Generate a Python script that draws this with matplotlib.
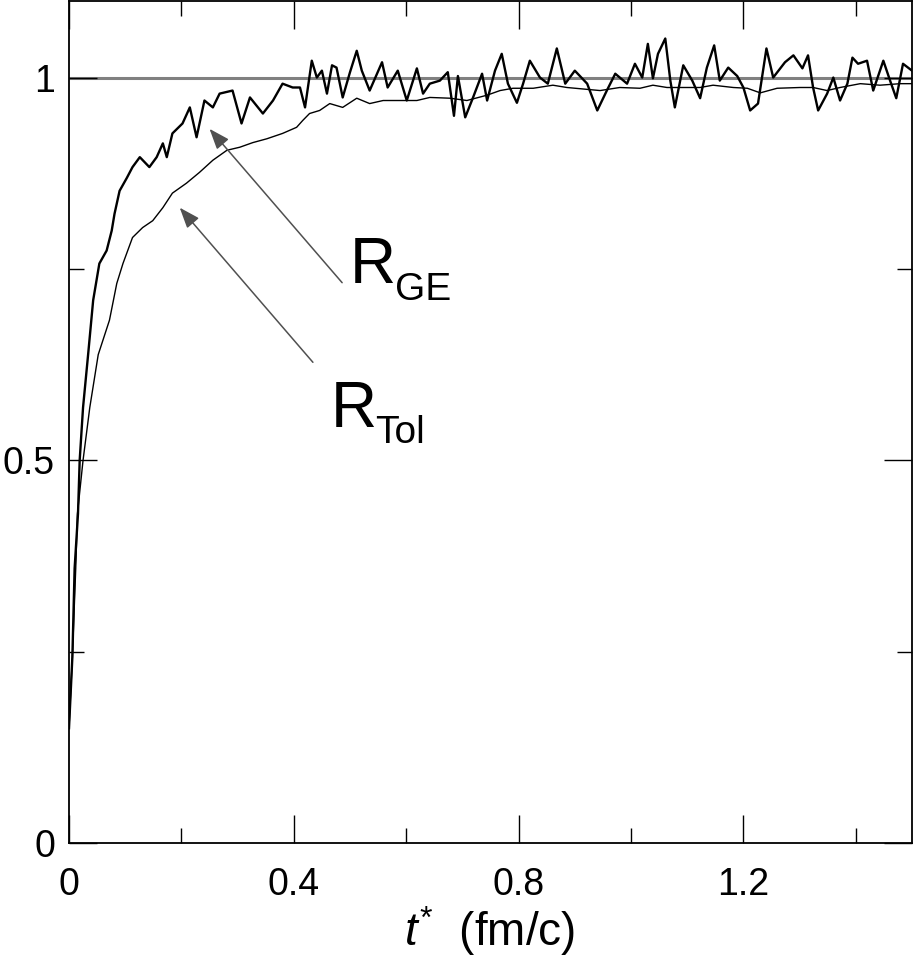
import matplotlib
matplotlib.use("Agg")
import matplotlib.pyplot as plt
import numpy as np

plt.rcParams["font.family"] = ["Liberation Sans", "DejaVu Sans"]
plt.rcParams["mathtext.fontset"] = "custom"
plt.rcParams["mathtext.rm"] = "Liberation Sans"
plt.rcParams["mathtext.it"] = "Liberation Sans:italic"

# R_GE: noisy curve
GE_T = [
    0.000, 0.006, 0.010, 0.016, 0.019, 0.025, 0.034, 0.043, 0.054, 0.067,
    0.076, 0.081, 0.090, 0.103, 0.113, 0.126, 0.143, 0.156, 0.167, 0.174,
    0.184, 0.202, 0.215, 0.227, 0.241, 0.256, 0.268, 0.291, 0.307, 0.322,
    0.345, 0.363, 0.380, 0.398, 0.411, 0.420, 0.432, 0.441, 0.450, 0.459,
    0.468, 0.476, 0.487, 0.500, 0.512, 0.521, 0.535, 0.557, 0.567, 0.585,
    0.601, 0.619, 0.630, 0.642, 0.660, 0.674, 0.685, 0.692, 0.705, 0.719,
    0.735, 0.744, 0.758, 0.770, 0.781, 0.797, 0.808, 0.820, 0.838, 0.852,
    0.868, 0.883, 0.900, 0.922, 0.940, 0.957, 0.972, 0.993, 1.007, 1.020,
    1.030, 1.039, 1.048, 1.061, 1.070, 1.078, 1.093, 1.109, 1.123, 1.135,
    1.148, 1.158, 1.173, 1.189, 1.200, 1.212, 1.226, 1.241, 1.253, 1.274,
    1.289, 1.305, 1.315, 1.324, 1.333, 1.349, 1.360, 1.372, 1.385, 1.394,
    1.404, 1.420, 1.431, 1.449, 1.461, 1.472, 1.484, 1.500,
]
GE_R = [
    0.150, 0.243, 0.359, 0.430, 0.500, 0.569, 0.638, 0.709, 0.757, 0.774,
    0.800, 0.822, 0.852, 0.869, 0.883, 0.896, 0.883, 0.896, 0.914, 0.896,
    0.927, 0.940, 0.961, 0.922, 0.970, 0.961, 0.979, 0.983, 0.940, 0.974,
    0.953, 0.970, 0.992, 0.987, 0.987, 0.961, 1.022, 1.000, 1.009, 0.979,
    1.016, 1.013, 0.974, 1.007, 1.035, 1.009, 0.983, 1.020, 0.987, 1.009,
    0.970, 1.012, 0.979, 0.992, 0.996, 1.007, 0.950, 1.002, 0.948, 0.974,
    1.005, 0.970, 1.009, 1.031, 0.992, 0.967, 0.992, 1.022, 1.000, 0.992,
    1.038, 0.992, 1.009, 0.992, 0.957, 0.983, 1.005, 0.992, 1.018, 1.000,
    1.044, 0.999, 1.031, 1.051, 0.996, 0.961, 1.016, 0.996, 0.973, 1.013,
    1.042, 0.996, 1.013, 1.002, 0.987, 0.957, 0.966, 1.038, 1.000, 1.020,
    1.029, 1.012, 1.029, 0.987, 0.957, 0.979, 1.000, 0.970, 0.992, 1.026,
    1.018, 1.022, 0.983, 1.022, 0.996, 0.973, 1.018, 1.009,
]

# R_Tol: smooth curve
TOL_T = [
    0.000, 0.006, 0.012, 0.015, 0.025, 0.037, 0.052, 0.072, 0.085, 0.096,
    0.113, 0.131, 0.149, 0.167, 0.184, 0.209, 0.232, 0.256, 0.281, 0.304,
    0.327, 0.352, 0.380, 0.405, 0.416, 0.428, 0.446, 0.464, 0.487, 0.512,
    0.535, 0.559, 0.589, 0.619, 0.642, 0.678, 0.708, 0.744, 0.767, 0.790,
    0.826, 0.861, 0.886, 0.945, 0.980, 1.016, 1.039, 1.064, 1.093, 1.123,
    1.146, 1.182, 1.207, 1.230, 1.260, 1.301, 1.324, 1.349, 1.372, 1.408,
    1.443, 1.479, 1.500,
]
TOL_R = [
    0.150, 0.243, 0.359, 0.430, 0.500, 0.569, 0.638, 0.683, 0.731, 0.757,
    0.791, 0.804, 0.813, 0.830, 0.849, 0.862, 0.876, 0.892, 0.905, 0.909,
    0.915, 0.920, 0.927, 0.935, 0.944, 0.953, 0.957, 0.966, 0.961, 0.973,
    0.966, 0.970, 0.970, 0.970, 0.974, 0.973, 0.970, 0.977, 0.983, 0.986,
    0.986, 0.990, 0.987, 0.983, 0.987, 0.986, 0.990, 0.987, 0.987, 0.987,
    0.990, 0.987, 0.986, 0.980, 0.986, 0.987, 0.987, 0.983, 0.987, 0.992,
    0.990, 0.992, 0.992,
]

XTICKS = [0, 0.4, 0.8, 1.2]
XTICK_LABELS = ["0", "0.4", "0.8", "1.2"]
YTICKS = [0, 0.5, 1]
YTICK_LABELS = ["0", "0.5", "1"]

fig = plt.figure(figsize=(9.13, 9.6), dpi=100)
ax = fig.add_axes([69 / 913, 117 / 960, 843 / 913, 842 / 960])

ax.axhline(1.0, color="#808080", lw=2.2, zorder=1)
ax.plot(TOL_T, TOL_R, color="black", lw=1.0, zorder=3)
ax.plot(GE_T, GE_R, color="black", lw=1.7, zorder=4)

ax.set_xlim(0, 1.5)
ax.set_ylim(0, 1.1)

ax.set_xticks(XTICKS)
ax.set_xticklabels(XTICK_LABELS)
ax.set_xticks([0.2, 0.6, 1.0, 1.4], minor=True)
ax.set_yticks(YTICKS)
ax.set_yticklabels(YTICK_LABELS)
ax.set_yticks([0.25, 0.75], minor=True)

ax.tick_params(which="both", direction="in", top=True, right=True, width=1.0, color="black")
ax.tick_params(which="major", length=20)
ax.tick_params(which="minor", length=10.5)
ax.tick_params(axis="x", which="major", labelsize=27, pad=17)
ax.tick_params(axis="y", which="major", labelsize=27, pad=10)
for s in ax.spines.values():
    s.set_linewidth(1.3)

fig.text(490 / 913, 14 / 960, r"$t^{*}$  (fm/c)", fontsize=33, ha="center", va="baseline")

# arrows and labels
arrow = dict(arrowstyle="-|>,head_length=0.45,head_width=0.17", color="#505050",
             lw=1.1, mutation_scale=28, shrinkA=0, shrinkB=0)
ax.annotate("", xy=(0.250, 0.933), xytext=(0.486, 0.732), arrowprops=arrow)
ax.annotate("", xy=(0.197, 0.830), xytext=(0.434, 0.628), arrowprops=arrow)

ax.text(0.500, 0.731, "R", fontsize=46, ha="left", va="baseline")
ax.text(0.580, 0.709, "GE", fontsize=28, ha="left", va="baseline")
ax.text(0.466, 0.543, "R", fontsize=46, ha="left", va="baseline")
ax.text(0.544, 0.522, "Tol", fontsize=28, ha="left", va="baseline")

fig.savefig("out.png", dpi=100)
